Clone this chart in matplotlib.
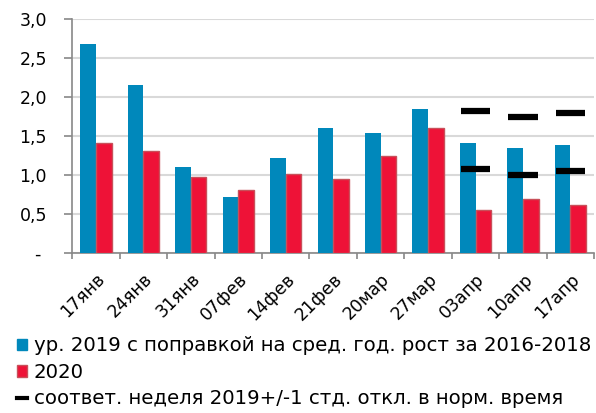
import matplotlib
matplotlib.use("Agg")
import matplotlib.pyplot as plt
import numpy as np
from matplotlib.patches import Patch
from matplotlib.lines import Line2D

plt.rcParams['font.family'] = ['DejaVu Sans']

categories = ["17янв", "24янв", "31янв", "07фев", "14фев", "21фев",
              "20мар", "27мар", "03апр", "10апр", "17апр"]
blue_vals = [2.68, 2.15, 1.10, 0.72, 1.22, 1.60, 1.54, 1.85, 1.41, 1.35, 1.39]
red_vals = [1.41, 1.31, 0.98, 0.81, 1.01, 0.95, 1.24, 1.60, 0.55, 0.70, 0.62]
upper_vals = [None] * 8 + [1.82, 1.74, 1.79]
lower_vals = [None] * 8 + [1.08, 1.00, 1.05]
yticks = [0, 0.5, 1.0, 1.5, 2.0, 2.5, 3.0]
ytick_labels = ["- ", "0,5", "1,0", "1,5", "2,0", "2,5", "3,0"]
legend_labels = ["ур. 2019 с поправкой на сред. год. рост за 2016-2018",
                 "2020",
                 "соответ. неделя 2019+/-1 стд. откл. в норм. время"]

blue = "#0088BB"
red = "#EE1237"
red_edge = "#C8505A"
fs = 12.5

fig = plt.figure(figsize=(5.96, 4.13), dpi=100)
ax = fig.add_axes([0.121, 0.387, 0.876, 0.567])

x = np.arange(len(categories))
w = 0.33
ax.bar(x - w / 2, blue_vals, w, color=blue, zorder=3)
ax.bar(x + w / 2, red_vals, w, color=red, edgecolor=red_edge, linewidth=1, zorder=3)

for i in range(len(categories)):
    for v in (upper_vals[i], lower_vals[i]):
        if v is not None:
            ax.plot([i - 0.31, i + 0.31], [v, v], color="black", lw=4.5,
                    solid_capstyle="butt", zorder=4)

ax.set_xlim(-0.5, len(categories) - 0.5)
ax.set_ylim(0, 3.0)
ax.set_yticks(yticks)
ax.set_yticklabels(ytick_labels, fontsize=fs)
ax.yaxis.grid(True, color="#D9D9D9", lw=1.5, zorder=0)
ax.set_axisbelow(True)

ax.set_xticks(np.arange(-0.5, len(categories), 1.0))
ax.set_xticklabels([])
ax.set_xticks(x, minor=True)
ax.set_xticklabels(categories, minor=True, rotation=45, ha="right",
                   rotation_mode="anchor", fontsize=fs)
ax.tick_params(axis="x", which="minor", length=0, pad=12)
ax.tick_params(axis="x", which="major", length=4, color="#888888", width=1.2)
ax.tick_params(axis="y", length=6, color="#888888", width=1.2, pad=12)

for s in ("top", "right"):
    ax.spines[s].set_visible(False)
for s in ("left", "bottom"):
    ax.spines[s].set_color("#888888")
    ax.spines[s].set_linewidth(1.2)

handles = [Patch(facecolor=blue, edgecolor=blue),
           Patch(facecolor=red, edgecolor=red_edge),
           Line2D([0], [0], color="black", lw=3)]
fig.legend(handles, legend_labels, loc="lower left", bbox_to_anchor=(0.015, -0.008),
           frameon=False, fontsize=14.2, handlelength=0.5, handleheight=0.5,
           handletextpad=0.35, labelspacing=0.38, borderaxespad=0)

fig.savefig("out.png", dpi=100)
